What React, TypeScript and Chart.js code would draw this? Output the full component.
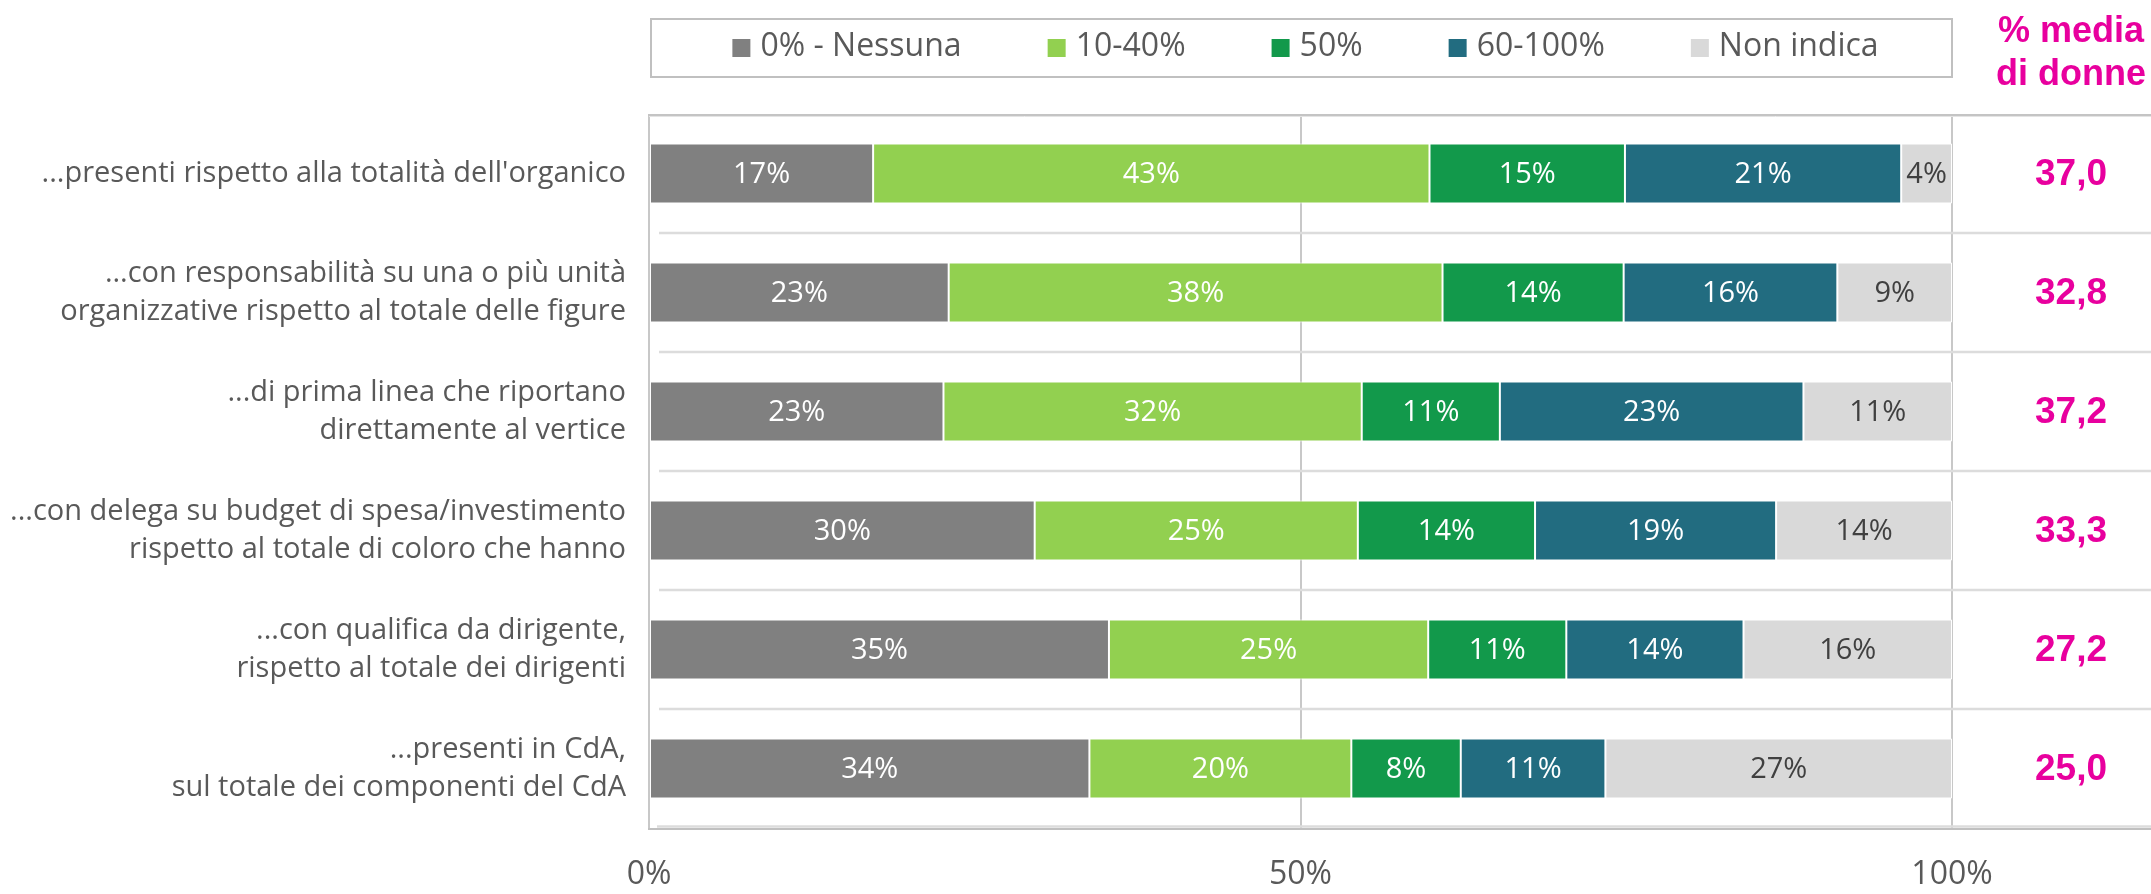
import React, { useEffect, useRef } from 'react';
import { Chart, registerables } from 'chart.js';

Chart.register(...registerables);

// ---------- data ----------
const categories: (string | string[])[] = [
  "...presenti rispetto alla totalità dell'organico",
  ['...con responsabilità su una o più unità', 'organizzative rispetto al totale delle figure'],
  ['...di prima linea che riportano', 'direttamente al vertice'],
  ['...con delega su budget di spesa/investimento', 'rispetto al totale di coloro che hanno'],
  ['...con qualifica da dirigente,', 'rispetto al totale dei dirigenti'],
  ['...presenti in CdA,', 'sul totale dei componenti del CdA'],
];
const seriesNames = ['0% - Nessuna', '10-40%', '50%', '60-100%', 'Non indica'];
const nessuna = [17.2, 23.0, 22.6, 29.6, 35.3, 33.8];
const da10a40 = [42.7, 37.9, 32.1, 24.8, 24.5, 20.1];
const cinquanta = [15.0, 13.9, 10.6, 13.6, 10.6, 8.4];
const da60a100 = [21.2, 16.4, 23.3, 18.5, 13.6, 11.1];
const nonIndica = [3.9, 8.8, 11.4, 13.5, 16.0, 26.6];
const mediaDonne = [37.0, 32.8, 37.2, 33.3, 27.2, 25.0];
const headerLines = ['% media', 'di donne'];

// ---------- styles ----------
const seriesColors = ['#808080', '#92d050', '#12994b', '#226c80', '#d9d9d9'];
const labelColors = ['#ffffff', '#ffffff', '#ffffff', '#ffffff', '#404040'];
const MAGENTA = '#e8009e';
const TEXT = '#595959';
const FONT = '"Open Sans", "DejaVu Sans", sans-serif';
const BOLD_FONT = '"Liberation Sans", Arial, sans-serif';

const decorPlugin = {
  id: 'decor',
  beforeDatasetsDraw(chart: any) {
    const { ctx, chartArea: a, width } = chart;
    const ys = chart.scales.y;
    const n = chart.data.labels.length;
    const line = (x1: number, y1: number, x2: number, y2: number) => {
      ctx.beginPath();
      ctx.moveTo(x1, y1);
      ctx.lineTo(x2, y2);
      ctx.stroke();
    };
    ctx.save();
    // separators between categories
    ctx.strokeStyle = '#dcdcdc';
    ctx.lineWidth = 2.5;
    for (let i = 0; i < n - 1; i++) {
      const yy = (ys.getPixelForValue(i) + ys.getPixelForValue(i + 1)) / 2;
      line(a.left + 10, yy, width, yy);
    }
    // bottom light line
    line(a.left + 8, a.bottom - 1.5, width, a.bottom - 1.5);
    // top frame
    ctx.strokeStyle = '#c4c4c4';
    ctx.lineWidth = 2;
    line(a.left - 1, a.top + 1, width, a.top + 1);
    ctx.strokeStyle = '#e4e4e4';
    ctx.lineWidth = 1;
    line(a.left, a.top + 2.5, width, a.top + 2.5);
    // bottom frame
    ctx.strokeStyle = '#c0c0c0';
    ctx.lineWidth = 2;
    line(a.left - 1, a.bottom + 1, width, a.bottom + 1);
    ctx.restore();
  },
  afterDatasetsDraw(chart: any) {
    const { ctx } = chart;
    ctx.save();
    ctx.font = `29px ${FONT}`;
    ctx.textAlign = 'center';
    ctx.textBaseline = 'middle';
    chart.data.datasets.forEach((ds: any, di: number) => {
      const meta = chart.getDatasetMeta(di);
      ctx.fillStyle = labelColors[di];
      meta.data.forEach((bar: any, i: number) => {
        const v = ds.data[i];
        const { x, y, base } = bar.getProps(['x', 'y', 'base'], true);
        ctx.fillText(Math.round(v) + '%', (x + base) / 2, y + 1);
      });
    });
    ctx.restore();
  },
  afterDraw(chart: any) {
    const { ctx, chartArea: a } = chart;
    const ys = chart.scales.y;
    ctx.save();
    // legend box
    ctx.strokeStyle = '#c0c0c0';
    ctx.lineWidth = 2;
    ctx.strokeRect(a.left + 2, a.top - 95, a.right - a.left - 2, 58);
    // legend items
    ctx.font = `32px ${FONT}`;
    ctx.textBaseline = 'middle';
    ctx.textAlign = 'left';
    const box = 18, gap = 10, spacing = 86;
    const items = chart.data.datasets.map((ds: any) => ({
      label: ds.label,
      color: ds.backgroundColor,
      w: ctx.measureText(ds.label).width,
    }));
    const total = items.reduce((s: number, it: any) => s + box + gap + it.w, 0) + spacing * (items.length - 1);
    let x = (a.left + a.right) / 2 - total / 2 + 5;
    const cy = a.top - 66;
    items.forEach((it: any) => {
      ctx.fillStyle = it.color;
      ctx.fillRect(x, cy - box / 2, box, box);
      ctx.fillStyle = TEXT;
      ctx.fillText(it.label, x + box + gap, cy - 1);
      x += box + gap + it.w + spacing;
    });
    // right column
    const cx = a.right + 119;
    ctx.fillStyle = MAGENTA;
    ctx.textAlign = 'center';
    ctx.textBaseline = 'alphabetic';
    ctx.font = `bold 36px ${BOLD_FONT}`;
    ctx.fillText(headerLines[0], cx, a.top - 72);
    ctx.fillText(headerLines[1], cx, a.top - 29);
    ctx.font = `bold 37px ${BOLD_FONT}`;
    ctx.textBaseline = 'middle';
    mediaDonne.forEach((v, i) => {
      ctx.fillText(v.toFixed(1).replace('.', ','), cx, ys.getPixelForValue(i) + 1);
    });
    ctx.restore();
  },
};

export default function App() {
  const canvasRef = useRef<HTMLCanvasElement | null>(null);

  useEffect(() => {
    document.body.style.margin = '0';
    let chart: Chart | null = null;
    let cancelled = false;
    const build = () => {
      if (cancelled || !canvasRef.current) return;
      const values = [nessuna, da10a40, cinquanta, da60a100, nonIndica];
      chart = new Chart(canvasRef.current, {
        type: 'bar',
        data: {
          labels: categories,
          datasets: seriesNames.map((name, i) => ({
            label: name,
            data: values[i],
            backgroundColor: seriesColors[i],
            borderColor: '#ffffff',
            borderWidth: 1,
            borderSkipped: false,
            categoryPercentage: 1,
            barPercentage: 0.504,
          })),
        },
        options: {
          indexAxis: 'y',
          responsive: true,
          maintainAspectRatio: false,
          animation: false,
          layout: { padding: { top: 114, right: 199, left: 0, bottom: 0 } },
          plugins: {
            legend: { display: false },
            tooltip: { enabled: false },
          },
          scales: {
            x: {
              stacked: true,
              min: 0,
              max: 100,
              ticks: {
                stepSize: 50,
                callback: (v: any) => v + '%',
                font: { family: FONT, size: 32 },
                color: TEXT,
                padding: 28,
                maxRotation: 0,
              },
              grid: { color: '#c8c8c8', lineWidth: 2, drawTicks: false },
              border: { display: false },
              afterFit: (s: any) => {
                s.height = 66;
              },
            },
            y: {
              stacked: true,
              ticks: {
                font: { family: FONT, size: 29, lineHeight: 1.32 },
                color: TEXT,
                padding: 23,
              },
              grid: { display: false, drawTicks: false },
              border: { display: false },
              afterFit: (s: any) => {
                s.width = 649;
              },
            },
          },
        } as any,
        plugins: [decorPlugin],
      });
    };
    const fontsReady = (document as any).fonts
      ? Promise.all([
          (document as any).fonts.load(`28px "Open Sans"`),
          (document as any).fonts.load(`bold 36px "Liberation Sans"`),
        ]).catch(() => null)
      : Promise.resolve(null);
    fontsReady.then(build);
    return () => {
      cancelled = true;
      if (chart) chart.destroy();
    };
  }, []);

  return (
    <div style={{ position: 'fixed', left: 0, top: 0, width: 2151, height: 894, background: '#ffffff' }}>
      <canvas ref={canvasRef} />
    </div>
  );
}
